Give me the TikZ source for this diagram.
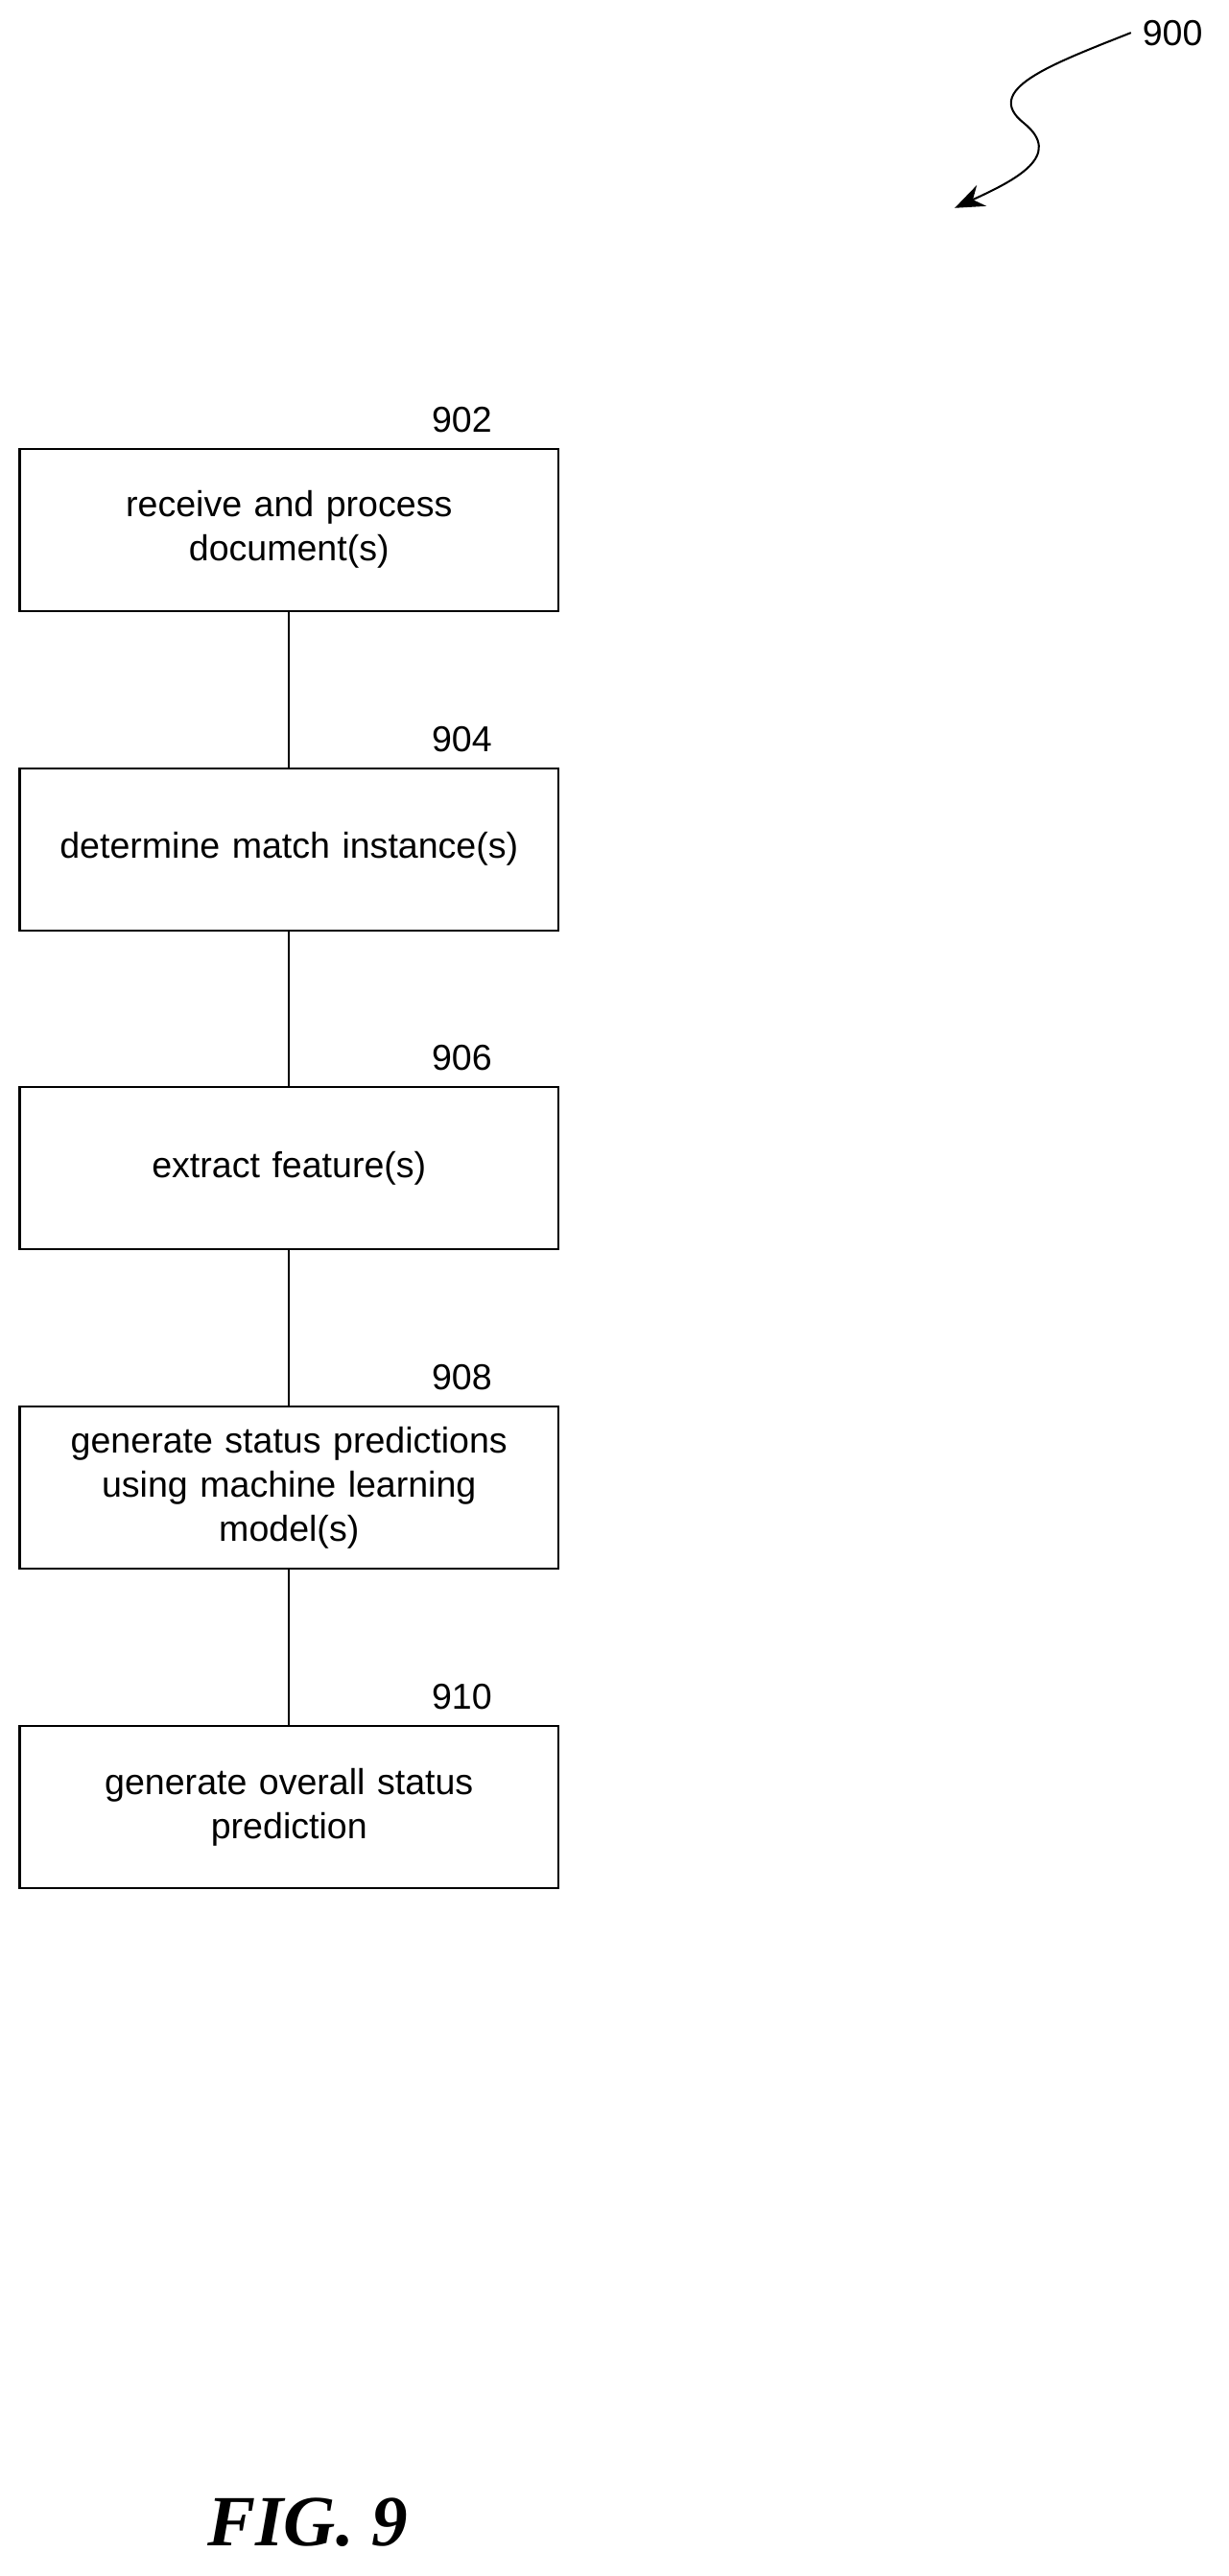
\documentclass[tikz,border=0pt]{standalone}
\usepackage{fontspec}
\setmainfont{Liberation Sans}
\newfontfamily\figfont{Liberation Serif}
\usetikzlibrary{arrows.meta}
\begin{document}
\begin{tikzpicture}[x=0.5pt,y=-0.5pt,
  box/.style={draw,line width=0.6pt,minimum width=164.5pt,minimum height=49.5pt,align=center,font=\fontsize{11}{13.5}\selectfont,inner sep=2pt,text width=155pt},
  lbl/.style={font=\fontsize{11}{13}\selectfont,anchor=south},
  conn/.style={line width=0.6pt}]
\useasboundingbox (0,0) rectangle (750,1573);
\node[box] (b1) at (176.5,323.5) {receive and process\\document(s)};
\node[box] (b2) at (176.5,518.5) {determine match instance(s)};
\node[box] (b3) at (176.5,713.5) {extract feature(s)};
\node[box] (b4) at (176.5,908.5) {generate status predictions\\using machine learning\\model(s)};
\node[box] (b5) at (176.5,1103.5) {generate overall status\\prediction};
\node[lbl] (l1) at (282,271) {902};
\node[lbl] (l2) at (282,466) {904};
\node[lbl] (l3) at (282,661) {906};
\node[lbl] (l4) at (282,856) {908};
\node[lbl] (l5) at (282,1051) {910};
\draw[conn] (b1) -- (b2);
\draw[conn] (b2) -- (b3);
\draw[conn] (b3) -- (b4);
\draw[conn] (b4) -- (b5);
\node[font=\fontsize{11}{13}\selectfont] (n900) at (716,20) {900};
\coordinate (tip) at (583,127);
\draw[line width=0.6pt,-{Stealth[length=9pt,width=7pt]}] (n900.west) .. controls (640,40) and (600,55) .. (625,75) .. controls (650,95) and (620,110) .. (tip);
\node[font=\figfont\bfseries\itshape\fontsize{22}{26}\selectfont] (fig) at (188,1540) {FIG. 9};
\end{tikzpicture}
\end{document}
